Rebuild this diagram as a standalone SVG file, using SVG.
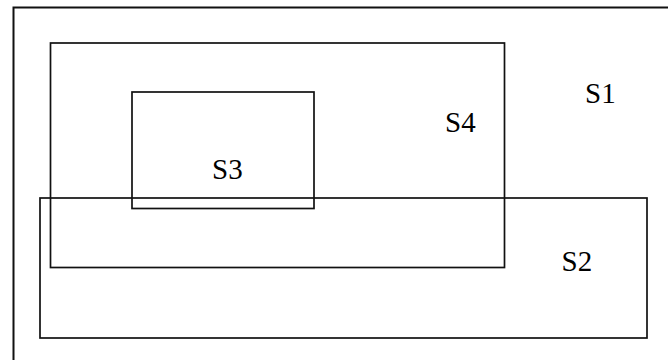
<svg xmlns="http://www.w3.org/2000/svg" width="668" height="360" viewBox="0 0 668 360">
<style>
.box{fill:none;stroke:#111;stroke-width:1.7}
.lbl{font-family:"Liberation Serif","Times New Roman",serif;font-size:29px;fill:#000}
</style>
<rect width="668" height="360" fill="#fff"/>
<g id="S1">
<rect class="box" x="13.5" y="7.5" width="680" height="380" style="stroke-width:2"/>
<text class="lbl" x="585" y="103">S1</text>
</g>
<g id="S4">
<rect class="box" x="50.5" y="43" width="454" height="224.5"/>
<text class="lbl" x="445" y="132">S4</text>
</g>
<g id="S3">
<rect class="box" x="132" y="92" width="182" height="116.5"/>
<text class="lbl" x="212" y="178.5">S3</text>
</g>
<g id="S2">
<rect class="box" x="40" y="198" width="607" height="140"/>
<text class="lbl" x="561.5" y="271">S2</text>
</g>
<g id="connectors"/>
</svg>
